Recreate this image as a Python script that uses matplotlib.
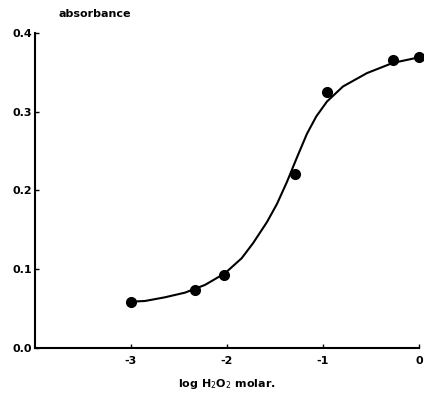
import matplotlib
matplotlib.use("Agg")
import matplotlib.pyplot as plt

# measured points (log [H2O2], absorbance)
log_conc = [-3.0, -2.33, -2.03, -1.29, -0.96, -0.27, 0.0]
absorb = [0.058, 0.074, 0.093, 0.221, 0.325, 0.365, 0.370]

# fitted curve
curve_x = [-3.01, -2.854, -2.646, -2.4375, -2.229, -2.021, -1.847, -1.729,
           -1.583, -1.479, -1.375, -1.271, -1.167, -1.07, -0.958, -0.792,
           -0.542, -0.271, 0.0]
curve_y = [0.0588, 0.0597, 0.0644, 0.0703, 0.0801, 0.0949, 0.114, 0.133,
           0.160, 0.183, 0.211, 0.242, 0.272, 0.294, 0.313, 0.332,
           0.349, 0.362, 0.369]

x_ticks = [-3, -2, -1, 0]
x_labels = ["-3", "-2", "-1", "0"]
y_ticks = [0.0, 0.1, 0.2, 0.3, 0.4]
y_labels = ["0.0", "0.1", "0.2", "0.3", "0.4"]

fig = plt.figure(figsize=(4.24, 4.05), dpi=100)
ax = fig.add_axes([0.0825, 0.1407, 0.9057, 0.778])

ax.plot(curve_x, curve_y, color="black", lw=1.5, solid_joinstyle="round",
        solid_capstyle="round", clip_on=False)
ax.plot(log_conc, absorb, "o", color="black", ms=7, clip_on=False)

ax.set_xlim(-4, 0)
ax.set_ylim(0, 0.4)
ax.spines["top"].set_visible(False)
ax.spines["right"].set_visible(False)
for s in ("left", "bottom"):
    ax.spines[s].set_linewidth(1.5)

ax.set_xticks(x_ticks)
ax.set_xticklabels(x_labels, fontsize=8, fontweight="bold")
ax.set_yticks(y_ticks)
ax.set_yticklabels(y_labels, fontsize=8, fontweight="bold")
ax.tick_params(direction="in", length=3, width=1)
ax.tick_params(axis="x", pad=6)
ax.tick_params(axis="y", pad=2)

ax.text(0.06, 1.045, "absorbance", transform=ax.transAxes, fontsize=8,
        fontweight="bold", ha="left", va="bottom")
ax.set_xlabel("log H$_2$O$_2$ molar.", fontsize=8, fontweight="bold", labelpad=8)

fig.savefig("out.png", dpi=100)
